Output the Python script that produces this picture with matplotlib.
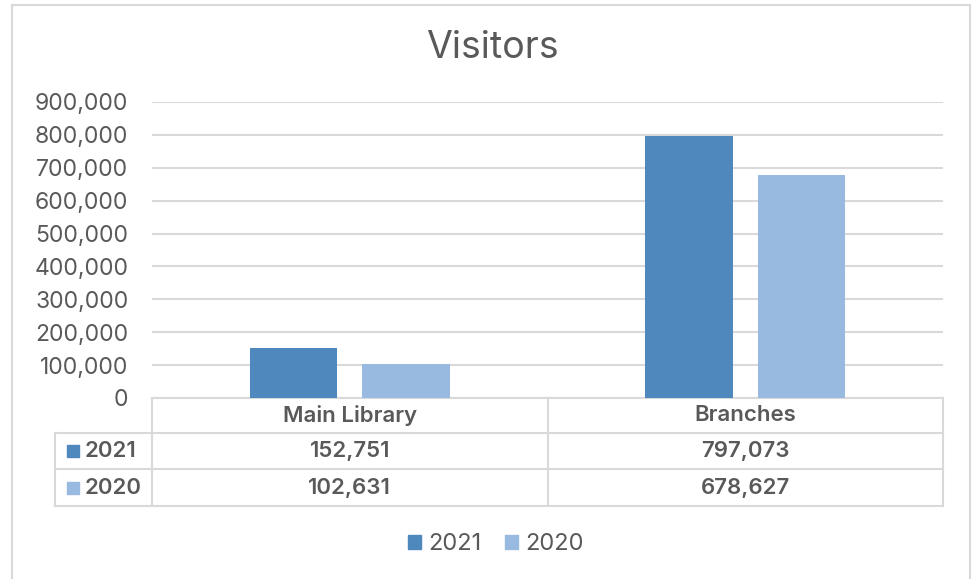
import matplotlib.pyplot as plt
import matplotlib.transforms as mtransforms
from matplotlib.lines import Line2D
from matplotlib.patches import Rectangle, Patch
import numpy as np

# data
categories = ["Main Library", "Branches"]
series_names = ["2021", "2020"]
visitors_2021 = [152751, 797073]
visitors_2020 = [102631, 678627]
y_ticks = [0, 100000, 200000, 300000, 400000, 500000, 600000, 700000, 800000, 900000]

colors = ["#4f88bc", "#98b9e0"]
text_color = "#595959"
grid_color = "#d9d9d9"
plt.rcParams['font.family'] = ['Inter', 'DejaVu Sans']

W, H = 977, 579
fig = plt.figure(figsize=(W / 100, H / 100), dpi=100)


def fx(x):
    return x / W


def fy(y):
    return 1 - y / H


# outer chart frame
fig.add_artist(Rectangle((fx(12), fy(590)), fx(970) - fx(12), fy(5) - fy(590),
                         transform=fig.transFigure, fill=False, edgecolor=grid_color, lw=1.5))

ax = fig.add_axes([fx(152), fy(398), fx(943) - fx(152), fy(102) - fy(398)])
x = np.arange(len(categories))
width = 0.222
offset = 0.142
ax.bar(x - offset, visitors_2021, width, color=colors[0], zorder=3)
ax.bar(x + offset, visitors_2020, width, color=colors[1], zorder=3)
ax.set_xlim(-0.5, len(categories) - 0.5)
ax.set_ylim(0, 900000)
ax.set_yticks(y_ticks)
ax.set_yticklabels([f"{v:,}" for v in y_ticks], fontsize=16.5, color=text_color)
ax.tick_params(axis='y', length=0, pad=17)
ax.set_xticks([])
ax.grid(axis='y', color=grid_color, lw=1.5, zorder=0)
for s in ["top", "right", "left"]:
    ax.spines[s].set_visible(False)
ax.spines["bottom"].set_color(grid_color)
ax.spines["bottom"].set_linewidth(1.5)

fig.text(fx(492), fy(48), "Visitors", ha='center', va='center', fontsize=27, color=text_color)

# data table under the axis
def hline(y, x0, x1):
    fig.add_artist(Line2D([fx(x0), fx(x1)], [fy(y), fy(y)], transform=fig.transFigure,
                          color=grid_color, lw=1.5))


def vline(xp, y0, y1):
    fig.add_artist(Line2D([fx(xp), fx(xp)], [fy(y0), fy(y1)], transform=fig.transFigure,
                          color=grid_color, lw=1.5))


hline(433, 55, 943)
hline(469, 55, 943)
hline(506, 55, 943)
vline(55, 433, 506)
for xp in [152, 548, 943]:
    vline(xp, 398, 506)

blend = mtransforms.blended_transform_factory(ax.transData, fig.transFigure)
for i, cat in enumerate(categories):
    fig.text(x[i], fy(415), cat, transform=blend, ha='center', va='center',
             fontsize=16, fontweight='semibold', color=text_color)
    fig.text(x[i], fy(451), f"{visitors_2021[i]:,}", transform=blend, ha='center', va='center',
             fontsize=16, fontweight='semibold', color=text_color)
    fig.text(x[i], fy(488), f"{visitors_2020[i]:,}", transform=blend, ha='center', va='center',
             fontsize=16, fontweight='semibold', color=text_color)

for name, col, yc in zip(series_names, colors, [451, 488]):
    fig.add_artist(Rectangle((fx(67), fy(yc + 6)), fx(12), fy(0) - fy(12),
                             transform=fig.transFigure, color=col))
    fig.text(fx(85), fy(yc), name, ha='left', va='center', fontsize=16,
             fontweight='semibold', color=text_color)

handles = [Patch(color=c, label=n) for n, c in zip(series_names, colors)]
fig.legend(handles=handles, loc='center', bbox_to_anchor=(fx(496), fy(544)), ncol=2,
           frameon=False, fontsize=17, labelcolor=text_color, handlelength=0.55,
           handleheight=0.55, handletextpad=0.3, columnspacing=1.0)

fig.savefig("out.png", dpi=100, facecolor='white')
